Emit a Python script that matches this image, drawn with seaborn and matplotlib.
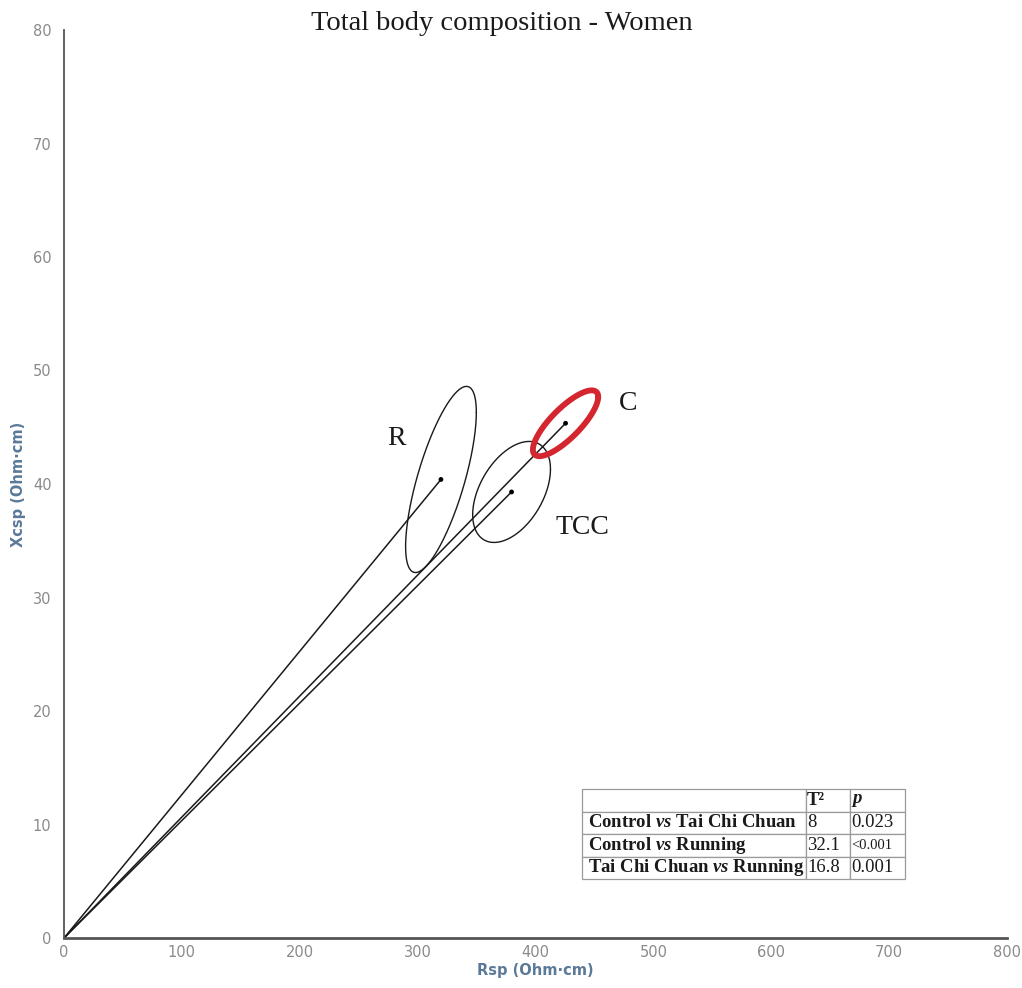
import numpy as np
import pandas as pd
import matplotlib
matplotlib.use("Agg")
import matplotlib.pyplot as plt
import seaborn as sns

# ---- data ----
groups = ["R", "TCC", "C"]
rsp_mean = [319.8, 379.7, 425.5]      # Rsp (Ohm·cm)
xc_mean = [40.4, 39.3, 45.35]         # Xcsp (Ohm·cm)
rsp_half = [30.0, 33.0, 27.7]         # ellipse half-range in Rsp
xc_half = [8.2, 4.45, 2.9]            # ellipse half-range in Xc
corr = [0.72, 0.45, 0.80]             # correlation Rsp-Xc
label_x = [282.4, 440.2, 478.4]
label_y = [44.05, 36.2, 47.1]

x_ticks = [0, 100, 200, 300, 400, 500, 600, 700, 800]
y_ticks = [0, 10, 20, 30, 40, 50, 60, 70, 80]

table_rows = ["Control $vs$ Tai Chi Chuan", "Control $vs$ Running", "Tai Chi Chuan $vs$ Running"]
t2_vals = ["8", "32.1", "16.8"]
p_vals = ["0.023", "<0.001", "0.001"]

# ---- style ----
sns.set_style("white")
plt.rcParams["font.family"] = ["DejaVu Sans"]
plt.rcParams["mathtext.fontset"] = "custom"
plt.rcParams["mathtext.it"] = "Liberation Serif:italic:bold"
plt.rcParams["mathtext.rm"] = "Liberation Serif:bold"
plt.rcParams["mathtext.bf"] = "Liberation Serif:bold"

fig = plt.figure(figsize=(10.22, 9.88), dpi=100)
ax = fig.add_axes([64 / 1022, 50 / 988, 943 / 1022, 908 / 988])

# rays from origin
rays = pd.DataFrame({
    "x": sum([[0, m] for m in rsp_mean], []),
    "y": sum([[0, m] for m in xc_mean], []),
    "g": sum([[g, g] for g in groups], []),
})
sns.lineplot(data=rays, x="x", y="y", units="g", estimator=None, sort=False,
             color="#1a1a1a", lw=1.1, ax=ax, legend=False)

# ellipses
t = np.linspace(0, 2 * np.pi, 400)
for g, cx, cy, a, b, r in zip(groups, rsp_mean, xc_mean, rsp_half, xc_half, corr):
    ex = cx + a * np.cos(t)
    ey = cy + b * (r * np.cos(t) + np.sqrt(1 - r * r) * np.sin(t))
    if g == "C":
        ax.plot(ex, ey, color="#d3262e", lw=4.2, solid_capstyle="round")
    else:
        ax.plot(ex, ey, color="#1a1a1a", lw=1.0)

# centers
sns.scatterplot(x=rsp_mean, y=xc_mean, color="black", s=12, ax=ax, zorder=5,
                edgecolor="none")

for g, lx, ly in zip(groups, label_x, label_y):
    ax.text(lx, ly, g, ha="center", va="center", fontsize=20,
            family="Liberation Serif", color="#1a1a1a")

ax.set_xlim(0, 800)
ax.set_ylim(0, 80)
ax.set_xticks(x_ticks)
ax.set_yticks(y_ticks)
ax.tick_params(axis="both", length=0, labelsize=10.5, labelcolor="#8a8a8a")
ax.tick_params(axis="x", pad=5)
ax.tick_params(axis="y", pad=9)
sns.despine(ax=ax)
ax.spines["left"].set_color("#555555")
ax.spines["left"].set_linewidth(1.3)
ax.spines["bottom"].set_color("#555555")
ax.spines["bottom"].set_linewidth(2.0)

ax.set_xlabel("Rsp (Ohm·cm)", fontsize=10.5, fontweight="bold", color="#5b7a99", labelpad=2)
ax.set_ylabel("Xcsp (Ohm·cm)", fontsize=10.5, fontweight="bold", color="#5b7a99", labelpad=5)

fig.text(502 / 1022, 1 - 23 / 988, "Total body composition - Women", ha="center", va="center",
         fontsize=20.5, family="Liberation Serif", color="#1a1a1a")

# table
cell_text = [["", "T²", "$p$"]] + [[r, t2, p] for r, t2, p in zip(table_rows, t2_vals, p_vals)]
tb = ax.table(cellText=cell_text, colWidths=[0.693, 0.136, 0.171],
              bbox=[(582 - 64) / 943, (938 - 879) / 908, 323 / 943, 90 / 908],
              cellLoc="left")
tb.auto_set_font_size(False)
for (i, j), cell in tb.get_celld().items():
    cell.set_edgecolor("#9a9a9a")
    cell.set_linewidth(0.9)
    txt = cell.get_text()
    txt.set_fontfamily("Liberation Serif")
    txt.set_fontsize(13.5)
    txt.set_color("#1a1a1a")
    cell.PAD = 0.025
    if j == 0 or i == 0:
        txt.set_fontweight("bold")
    if i == 2 and j == 2:
        txt.set_fontsize(10.5)

fig.savefig("out.png", dpi=100)
